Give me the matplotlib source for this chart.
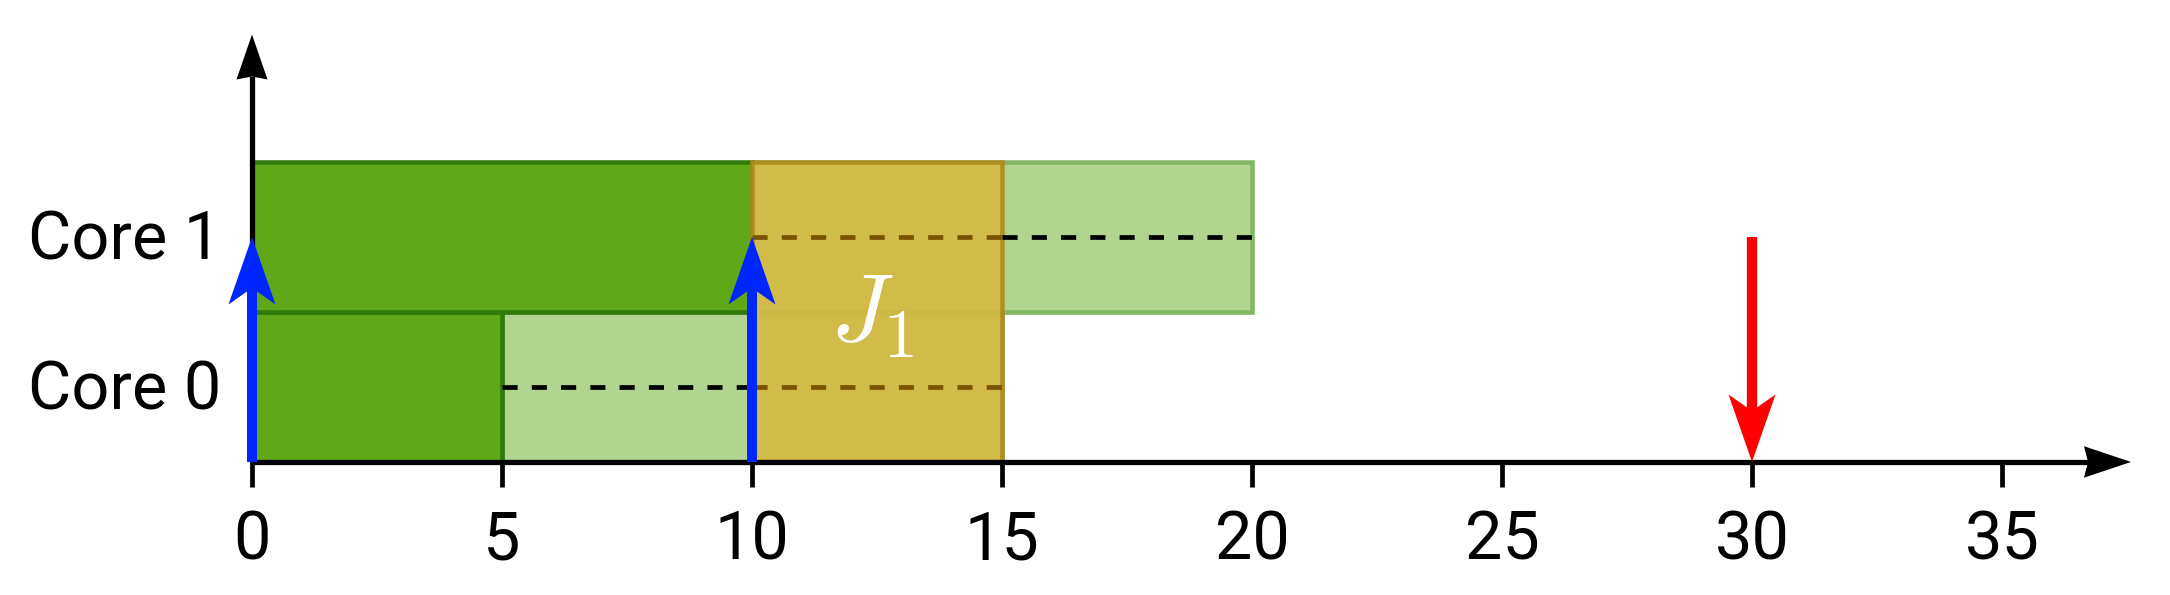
import matplotlib
matplotlib.use("Agg")
import matplotlib.pyplot as plt
from matplotlib.patches import Rectangle, Polygon

# ---- data ----
cores = ["Core 0", "Core 1"]
# (core index, start, end)
dark_jobs = [(0, 0, 5), (1, 0, 10)]
light_jobs = [(0, 5, 15), (1, 10, 20)]
gold_job = (0, 2, 10, 15)          # core from, core to, start, end
gold_label = r"$J_1$"
dashed_segments = [(0, 5, 10, "k"), (0, 10, 15, "brown"),
                   (1, 10, 15, "brown"), (1, 15, 20, "k")]
release_times = [0, 10]
deadline_times = [30]
xticks = [0, 5, 10, 15, 20, 25, 30, 35]

plt.rcParams['font.family'] = ['Roboto', 'DejaVu Sans']
plt.rcParams['mathtext.fontset'] = 'cm'

fig = plt.figure(figsize=(21.7, 5.95), dpi=100)
ax = fig.add_axes([0, 0, 1, 1])
ax.set_xlim(-5.04, 38.36)
ax.set_ylim(-0.887, 3.08)
ax.axis('off')

DARK = "#5fa818"
DARK_EDGE = "#2e7a0a"
LIGHT = "#b1d58e"
LIGHT_EDGE = "#84b763"
GOLD = "#d5b942"
GOLD_EDGE = "#b08a1e"
BROWN = "#7a5200"

for c, s, e in dark_jobs:
    ax.add_patch(Rectangle((s, c), e - s, 1, facecolor=DARK, edgecolor=DARK_EDGE,
                           lw=3.3, zorder=2))
for c, s, e in light_jobs:
    ax.add_patch(Rectangle((s, c), e - s, 1, facecolor=LIGHT, edgecolor=LIGHT_EDGE,
                           lw=3.3, zorder=1.5))
for c, s, e, col in dashed_segments:
    ax.plot([s, e], [c + 0.5, c + 0.5], color=(BROWN if col == "brown" else "k"),
            lw=3.4, dashes=(3.2, 3.0), zorder=4)
c0, c1, s, e = gold_job
ax.add_patch(Rectangle((s, c0), e - s, c1 - c0, facecolor=GOLD, edgecolor=GOLD_EDGE,
                       lw=3.3, alpha=0.9, zorder=3))
ax.text((s + e) / 2 - 0.1, 0.98, gold_label, color="white", fontsize=70,
        ha="center", va="center", zorder=6)

# axes
x_tip, x_back, x_hh = 37.58, 36.64, 0.105
ax.plot([0, x_back + 0.1], [0, 0], color="k", lw=3.8, solid_capstyle="butt", zorder=5)
ax.add_patch(Polygon([(x_tip, 0), (x_back, x_hh), (x_back + 0.08, 0), (x_back, -x_hh)],
                     closed=True, facecolor="k", edgecolor="none", zorder=5))
y_tip, y_back, y_hw = 2.85, 2.55, 0.31
ax.plot([0, 0], [0, y_back + 0.02], color="k", lw=3.8, solid_capstyle="butt", zorder=5)
ax.add_patch(Polygon([(0, y_tip), (y_hw, y_back), (0, y_back + 0.02), (-y_hw, y_back)],
                     closed=True, facecolor="k", edgecolor="none", zorder=5))

for t in xticks:
    ax.plot([t, t], [0, -0.167], color="k", lw=3.4, solid_capstyle="butt", zorder=5)
    ax.text(t, -0.653, str(t), fontsize=48, ha="center", va="baseline")

for i, name in enumerate(cores):
    ax.text(-0.62, i + 0.347, name, fontsize=48, ha="right", va="baseline")

# arrows
hw, hl, notch = 0.47, 0.45, 0.34
for t in release_times:
    top = 1.5
    ax.plot([t, t], [0, top - notch + 0.01], color="#0026ff", lw=7.2,
            solid_capstyle="butt", zorder=7)
    ax.add_patch(Polygon([(t, top), (t + hw, top - hl), (t, top - notch), (t - hw, top - hl)],
                         closed=True, facecolor="#0026ff", edgecolor="none", zorder=7))
for t in deadline_times:
    top = 1.5
    ax.plot([t, t], [top, notch - 0.01], color="#ff0000", lw=7.4,
            solid_capstyle="butt", zorder=7)
    ax.add_patch(Polygon([(t, 0), (t + hw, hl), (t, notch), (t - hw, hl)],
                         closed=True, facecolor="#ff0000", edgecolor="none", zorder=7))

fig.savefig("out.png", dpi=100)
